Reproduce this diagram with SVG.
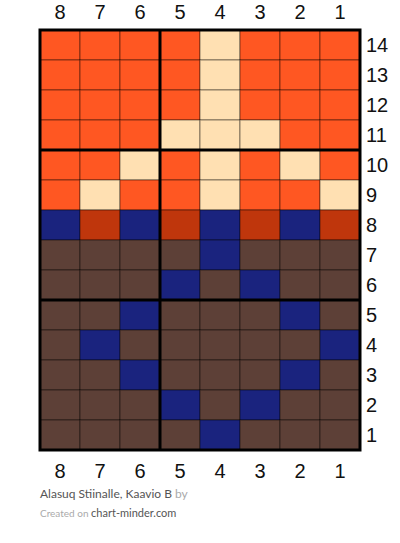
<svg xmlns="http://www.w3.org/2000/svg" width="400" height="543" viewBox="0 0 400 543">
<style>
.c{stroke:rgba(0,0,0,0.45);stroke-width:1}
.o{fill:#FF5722}.w{fill:#FFE0B2}.n{fill:#1A237E}.r{fill:#BF360C}.b{fill:#5D4037}
.t{stroke:#000;stroke-width:3;fill:none}
.num{font-family:"Liberation Sans",Arial,sans-serif;font-size:20px;fill:#111}
.ft{font-family:Lato,"Liberation Sans",sans-serif}
</style>
<rect width="400" height="543" fill="#fff"/>
<g id="cells">
<!-- row 14 y=30 -->
<rect class="c o" x="40" y="30" width="40" height="30"/><rect class="c o" x="80" y="30" width="40" height="30"/><rect class="c o" x="120" y="30" width="40" height="30"/><rect class="c o" x="160" y="30" width="40" height="30"/><rect class="c w" x="200" y="30" width="40" height="30"/><rect class="c o" x="240" y="30" width="40" height="30"/><rect class="c o" x="280" y="30" width="40" height="30"/><rect class="c o" x="320" y="30" width="40" height="30"/>
<!-- row 13 -->
<rect class="c o" x="40" y="60" width="40" height="30"/><rect class="c o" x="80" y="60" width="40" height="30"/><rect class="c o" x="120" y="60" width="40" height="30"/><rect class="c o" x="160" y="60" width="40" height="30"/><rect class="c w" x="200" y="60" width="40" height="30"/><rect class="c o" x="240" y="60" width="40" height="30"/><rect class="c o" x="280" y="60" width="40" height="30"/><rect class="c o" x="320" y="60" width="40" height="30"/>
<!-- row 12 -->
<rect class="c o" x="40" y="90" width="40" height="30"/><rect class="c o" x="80" y="90" width="40" height="30"/><rect class="c o" x="120" y="90" width="40" height="30"/><rect class="c o" x="160" y="90" width="40" height="30"/><rect class="c w" x="200" y="90" width="40" height="30"/><rect class="c o" x="240" y="90" width="40" height="30"/><rect class="c o" x="280" y="90" width="40" height="30"/><rect class="c o" x="320" y="90" width="40" height="30"/>
<!-- row 11 -->
<rect class="c o" x="40" y="120" width="40" height="30"/><rect class="c o" x="80" y="120" width="40" height="30"/><rect class="c o" x="120" y="120" width="40" height="30"/><rect class="c w" x="160" y="120" width="40" height="30"/><rect class="c w" x="200" y="120" width="40" height="30"/><rect class="c w" x="240" y="120" width="40" height="30"/><rect class="c o" x="280" y="120" width="40" height="30"/><rect class="c o" x="320" y="120" width="40" height="30"/>
<!-- row 10 -->
<rect class="c o" x="40" y="150" width="40" height="30"/><rect class="c o" x="80" y="150" width="40" height="30"/><rect class="c w" x="120" y="150" width="40" height="30"/><rect class="c o" x="160" y="150" width="40" height="30"/><rect class="c w" x="200" y="150" width="40" height="30"/><rect class="c o" x="240" y="150" width="40" height="30"/><rect class="c w" x="280" y="150" width="40" height="30"/><rect class="c o" x="320" y="150" width="40" height="30"/>
<!-- row 9 -->
<rect class="c o" x="40" y="180" width="40" height="30"/><rect class="c w" x="80" y="180" width="40" height="30"/><rect class="c o" x="120" y="180" width="40" height="30"/><rect class="c o" x="160" y="180" width="40" height="30"/><rect class="c w" x="200" y="180" width="40" height="30"/><rect class="c o" x="240" y="180" width="40" height="30"/><rect class="c o" x="280" y="180" width="40" height="30"/><rect class="c w" x="320" y="180" width="40" height="30"/>
<!-- row 8 -->
<rect class="c n" x="40" y="210" width="40" height="30"/><rect class="c r" x="80" y="210" width="40" height="30"/><rect class="c n" x="120" y="210" width="40" height="30"/><rect class="c r" x="160" y="210" width="40" height="30"/><rect class="c n" x="200" y="210" width="40" height="30"/><rect class="c r" x="240" y="210" width="40" height="30"/><rect class="c n" x="280" y="210" width="40" height="30"/><rect class="c r" x="320" y="210" width="40" height="30"/>
<!-- row 7 -->
<rect class="c b" x="40" y="240" width="40" height="30"/><rect class="c b" x="80" y="240" width="40" height="30"/><rect class="c b" x="120" y="240" width="40" height="30"/><rect class="c b" x="160" y="240" width="40" height="30"/><rect class="c n" x="200" y="240" width="40" height="30"/><rect class="c b" x="240" y="240" width="40" height="30"/><rect class="c b" x="280" y="240" width="40" height="30"/><rect class="c b" x="320" y="240" width="40" height="30"/>
<!-- row 6 -->
<rect class="c b" x="40" y="270" width="40" height="30"/><rect class="c b" x="80" y="270" width="40" height="30"/><rect class="c b" x="120" y="270" width="40" height="30"/><rect class="c n" x="160" y="270" width="40" height="30"/><rect class="c b" x="200" y="270" width="40" height="30"/><rect class="c n" x="240" y="270" width="40" height="30"/><rect class="c b" x="280" y="270" width="40" height="30"/><rect class="c b" x="320" y="270" width="40" height="30"/>
<!-- row 5 -->
<rect class="c b" x="40" y="300" width="40" height="30"/><rect class="c b" x="80" y="300" width="40" height="30"/><rect class="c n" x="120" y="300" width="40" height="30"/><rect class="c b" x="160" y="300" width="40" height="30"/><rect class="c b" x="200" y="300" width="40" height="30"/><rect class="c b" x="240" y="300" width="40" height="30"/><rect class="c n" x="280" y="300" width="40" height="30"/><rect class="c b" x="320" y="300" width="40" height="30"/>
<!-- row 4 -->
<rect class="c b" x="40" y="330" width="40" height="30"/><rect class="c n" x="80" y="330" width="40" height="30"/><rect class="c b" x="120" y="330" width="40" height="30"/><rect class="c b" x="160" y="330" width="40" height="30"/><rect class="c b" x="200" y="330" width="40" height="30"/><rect class="c b" x="240" y="330" width="40" height="30"/><rect class="c b" x="280" y="330" width="40" height="30"/><rect class="c n" x="320" y="330" width="40" height="30"/>
<!-- row 3 -->
<rect class="c b" x="40" y="360" width="40" height="30"/><rect class="c b" x="80" y="360" width="40" height="30"/><rect class="c n" x="120" y="360" width="40" height="30"/><rect class="c b" x="160" y="360" width="40" height="30"/><rect class="c b" x="200" y="360" width="40" height="30"/><rect class="c b" x="240" y="360" width="40" height="30"/><rect class="c n" x="280" y="360" width="40" height="30"/><rect class="c b" x="320" y="360" width="40" height="30"/>
<!-- row 2 -->
<rect class="c b" x="40" y="390" width="40" height="30"/><rect class="c b" x="80" y="390" width="40" height="30"/><rect class="c b" x="120" y="390" width="40" height="30"/><rect class="c n" x="160" y="390" width="40" height="30"/><rect class="c b" x="200" y="390" width="40" height="30"/><rect class="c n" x="240" y="390" width="40" height="30"/><rect class="c b" x="280" y="390" width="40" height="30"/><rect class="c b" x="320" y="390" width="40" height="30"/>
<!-- row 1 -->
<rect class="c b" x="40" y="420" width="40" height="30"/><rect class="c b" x="80" y="420" width="40" height="30"/><rect class="c b" x="120" y="420" width="40" height="30"/><rect class="c b" x="160" y="420" width="40" height="30"/><rect class="c n" x="200" y="420" width="40" height="30"/><rect class="c b" x="240" y="420" width="40" height="30"/><rect class="c b" x="280" y="420" width="40" height="30"/><rect class="c b" x="320" y="420" width="40" height="30"/>
</g>
<g id="thick-lines">
<rect class="t" x="40" y="30" width="320" height="420"/>
<line class="t" x1="160" y1="30" x2="160" y2="450"/>
<line class="t" x1="40" y1="150" x2="360" y2="150"/>
<line class="t" x1="40" y1="300" x2="360" y2="300"/>
</g>
<g id="col-labels-top" class="num" text-anchor="middle">
<text x="60" y="19">8</text><text x="100" y="19">7</text><text x="140" y="19">6</text><text x="180" y="19">5</text><text x="220" y="19">4</text><text x="260" y="19">3</text><text x="300" y="19">2</text><text x="340" y="19">1</text>
</g>
<g id="col-labels-bottom" class="num" text-anchor="middle">
<text x="60" y="478">8</text><text x="100" y="478">7</text><text x="140" y="478">6</text><text x="180" y="478">5</text><text x="220" y="478">4</text><text x="260" y="478">3</text><text x="300" y="478">2</text><text x="340" y="478">1</text>
</g>
<g id="row-labels" class="num">
<text x="366" y="52">14</text><text x="366" y="82">13</text><text x="366" y="112">12</text><text x="366" y="142">11</text><text x="366" y="172">10</text><text x="366" y="202">9</text><text x="366" y="232">8</text><text x="366" y="262">7</text><text x="366" y="292">6</text><text x="366" y="322">5</text><text x="366" y="352">4</text><text x="366" y="382">3</text><text x="366" y="412">2</text><text x="366" y="442">1</text>
</g>
<g id="footer" class="ft">
<text x="40" y="498" font-size="12" fill="#555">Alasuq Stiinalle, Kaavio B <tspan fill="#aaa">by</tspan></text>
<text x="40" y="517" font-size="10" fill="#aaa">Created on <tspan font-size="11" fill="#555">chart-minder.com</tspan></text>
</g>
</svg>
